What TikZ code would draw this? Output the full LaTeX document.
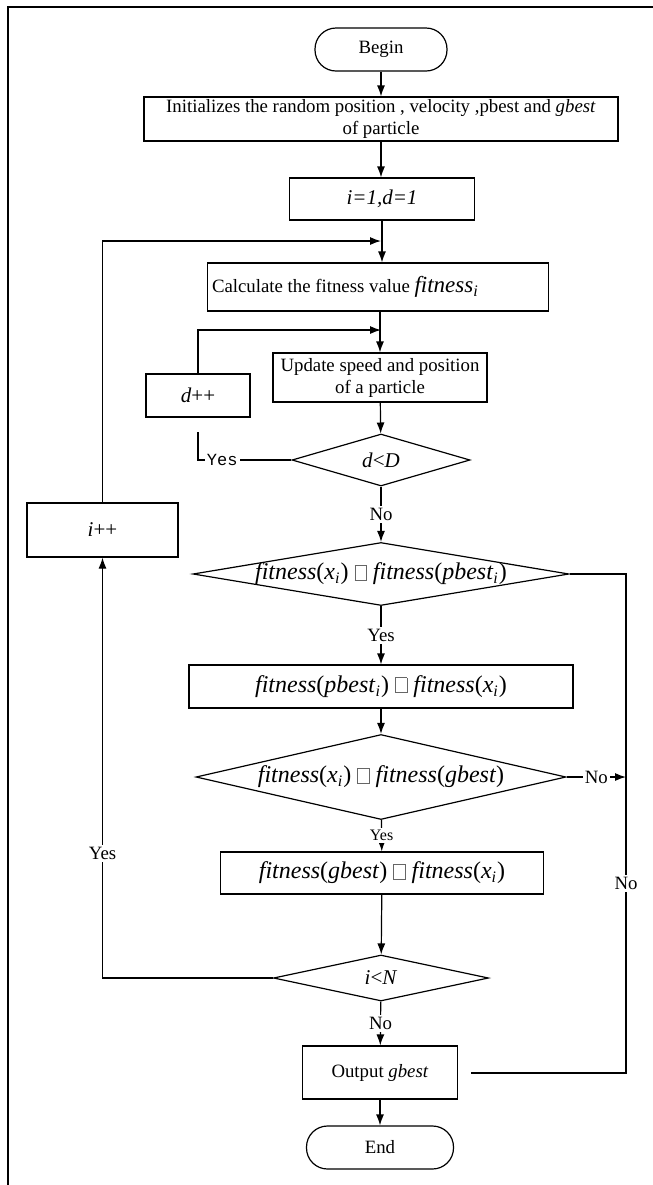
\documentclass[tikz,border=0pt]{standalone}
\usepackage{fontspec}
\setmainfont{Liberation Serif}
\setmonofont{Liberation Mono}
\usetikzlibrary{shapes.geometric,arrows.meta}

\newcommand{\fit}{\textit{fitness}}
\newcommand{\sbi}{\textsubscript{\textit{i}}}
\newcommand{\nobox}{{\color{black!60}\setlength{\fboxsep}{0pt}\setlength{\fboxrule}{0.4pt}\fbox{\rule{0pt}{0.6em}\rule{0.45em}{0pt}}}}

\begin{document}
\begin{tikzpicture}[x = 0.5pt, y = -0.5pt, line width = 0.6pt,
	font = \fontsize{9.4}{11}\selectfont,
	proc/.style = {draw, rectangle, inner sep = 0pt, align = center},
	term/.style = {draw, rectangle, rounded corners = 10.5pt, inner sep = 0pt},
	dec/.style = {draw, diamond, inner sep = 0pt},
	big/.style = {font = \fontsize{12}{14}\selectfont},
	mid/.style = {font = \fontsize{10.5}{12}\selectfont},
	lab/.style = {fill = white, inner sep = 1pt},
	>={Latex[length = 5.5pt, width = 4pt]}]
	\useasboundingbox (0,0) rectangle (653,1185);
	\draw (653,7) -- (8,7) -- (8,1185);

	\node[term, minimum width = 66pt, minimum height = 21.5pt] (begin) at (381,49.5) {Begin};
	\node[proc, minimum width = 237pt, minimum height = 22pt] (init) at (381,119)
		{Initializes the random position , velocity ,pbest and \textit{gbest}\\ of particle};
	\node[proc, mid, minimum width = 92.5pt, minimum height = 21pt] (init1) at (382,199) {\textit{i=1,d=1}};
	\node[proc, minimum width = 170.5pt, minimum height = 24pt] (calc) at (378,287)
		{\makebox[166pt][l]{Calculate the fitness value {\fontsize{11.5}{12}\selectfont\fit\sbi}}};
	\node[proc, minimum width = 107pt, minimum height = 24.5pt] (upd) at (380,377.5)
		{Update speed and position\\ of a particle};
	\node[proc, mid, minimum width = 52pt, minimum height = 21.5pt] (dpp) at (198,395.5) {\textit{d}++};
	\node[dec, mid, minimum width = 89pt, minimum height = 26pt] (dD) at (381,460) {\makebox[0pt]{\textit{d}<\textit{D}}};
	\node[proc, mid, minimum width = 75.5pt, minimum height = 27pt] (ipp) at (102.5,530) {\textit{i}++};
	\node[dec, big, minimum width = 188pt, minimum height = 31.5pt] (dp) at (381,574)
		{\makebox[0pt]{\fit(\textit{x}\sbi) \nobox{} \fit(\textit{pbest}\sbi)}};
	\node[proc, big, minimum width = 192pt, minimum height = 21.5pt] (upp) at (381,686.5)
		{\fit(\textit{pbest}\sbi) \nobox{} \fit(\textit{x}\sbi)};
	\node[dec, big, minimum width = 185pt, minimum height = 42.5pt] (dg) at (381,777)
		{\makebox[0pt]{\fit(\textit{x}\sbi) \nobox{} \fit(\textit{gbest})}};
	\node[proc, big, minimum width = 161.5pt, minimum height = 21pt] (upg) at (382,873)
		{\fit(\textit{gbest}) \nobox{} \fit(\textit{x}\sbi)};
	\node[dec, mid, minimum width = 107.5pt, minimum height = 23pt] (dN) at (381,978) {\makebox[0pt]{\textit{i}<\textit{N}}};
	\node[proc, minimum width = 77.5pt, minimum height = 26.5pt] (out) at (380,1072.5) {Output \textit{gbest}};
	\node[term, minimum width = 73.5pt, minimum height = 21.5pt] (fin) at (380,1147.5) {End};

	\coordinate (ij) at (381,241);
	\coordinate (dj) at (381,330);
	\coordinate (dgap) at (198,432);
	\coordinate (rc) at (626,1073);
	\coordinate (og) at (471,1073);

	\draw[->] (begin) -- (init);
	\draw[->] (init) -- (init |- init1.north);
	\draw[->] (init1.south) -- (init1.south |- calc.north);
	\draw[->] (ipp.north) |- (ij);
	\draw[->] (calc.south -| upd.north) -- (upd.north);
	\draw[->] (dpp.north) |- (dj);
	\draw[->] (upd) -- (dD);
	\draw (dD.west) -| (dgap) node[pos = 0.37, lab, font = \ttfamily\fontsize{8.5}{10}\selectfont] {Yes};
	\draw[->] (dD) -- (dp) node[midway, lab] {No};
	\draw (dp.east) -| (rc) node[pos = 0.81, lab] {No} -- (og);
	\draw[->] (dp) -- (upp) node[midway, lab] {Yes};
	\draw[->] (upp) -- (dg);
	\draw[->] (dg.east) -- (dg.east -| rc) node[midway, lab] {No};
	\draw[->] (dg) -- (upg) node[midway, lab, font = \fontsize{8}{9}\selectfont] {Yes};
	\draw[->] (upg) -- (dN);
	\draw[->] (dN.west) -| (ipp.south) node[pos = 0.648, lab] {Yes};
	\draw[->] (dN) -- (out) node[midway, lab] {No};
	\draw[->] (out) -- (fin);
\end{tikzpicture}
\end{document}
